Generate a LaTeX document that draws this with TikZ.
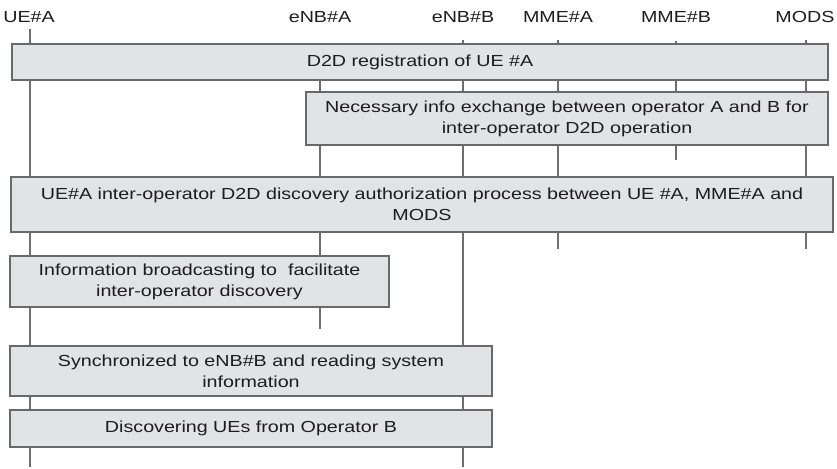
\documentclass[tikz,border=0pt]{standalone}
\usepackage{fontspec}
\setmainfont[FakeStretch=1.23]{Liberation Sans}
\definecolor{boxfill}{RGB}{226,227,229}
\definecolor{boxline}{RGB}{105,105,105}
\definecolor{lifeline}{RGB}{110,110,110}
\definecolor{txt}{RGB}{30,28,29}
\tikzset{
  head/.style={text=txt, inner sep=0pt, font=\fontsize{16}{21}\selectfont},
  life/.style={draw=lifeline, line width=1.4pt},
  stepbox/.style={draw=boxline, fill=boxfill, line width=1.4pt, inner sep=0pt,
    align=center, text=txt, font=\fontsize{16}{21}\selectfont},
}
\begin{document}
\begin{tikzpicture}[x=1pt,y=-1pt]
\useasboundingbox (0,0) rectangle (837,468);
% headers
\node[head] (ue)   at (29,17)  {UE\#A};
\node[head] (enba) at (320,17) {eNB\#A};
\node[head] (enbb) at (463,17) {eNB\#B};
\node[head] (mmea) at (558,17) {MME\#A};
\node[head] (mmeb) at (676,17) {MME\#B};
\node[head] (mods) at (805,17) {MODS};
% lifeline end points
\coordinate (ueT) at (30,29);    \coordinate (ueB) at (30,467);
\coordinate (enbaT) at (320,80); \coordinate (enbaB) at (320,329);
\coordinate (enbbT) at (463,40); \coordinate (enbbB) at (463,467);
\coordinate (mmeaT) at (558,40); \coordinate (mmeaB) at (558,249);
\coordinate (mmebT) at (676,41); \coordinate (mmebB) at (676,160);
\coordinate (modsT) at (806,40); \coordinate (modsB) at (806,249);
\draw[life] (ueT) -- (ueB);
\draw[life] (enbaT) -- (enbaB);
\draw[life] (enbbT) -- (enbbB);
\draw[life] (mmeaT) -- (mmeaB);
\draw[life] (mmebT) -- (mmebB);
\draw[life] (modsT) -- (modsB);
% boxes
\node[stepbox, minimum width=816, minimum height=36] (b1) at (420,62)
  {D2D registration of UE \#A};
\node[stepbox, minimum width=522, minimum height=53] (b2) at (567,118.5)
  {Necessary info exchange between operator A and B for\\inter-operator D2D operation};
\node[stepbox, minimum width=822, minimum height=55] (b3) at (422,204.5)
  {UE\#A inter-operator D2D discovery authorization process between UE \#A, MME\#A and\\MODS};
\node[stepbox, minimum width=379, minimum height=51] (b4) at (199.5,281.5)
  {Information broadcasting to\ \ facilitate\\inter-operator discovery};
\node[stepbox, minimum width=482, minimum height=50] (b5) at (251,371)
  {Synchronized to eNB\#B and reading system\\information};
\node[stepbox, minimum width=482, minimum height=37] (b6) at (251,428.5)
  {Discovering UEs from Operator B};
\end{tikzpicture}
\end{document}
